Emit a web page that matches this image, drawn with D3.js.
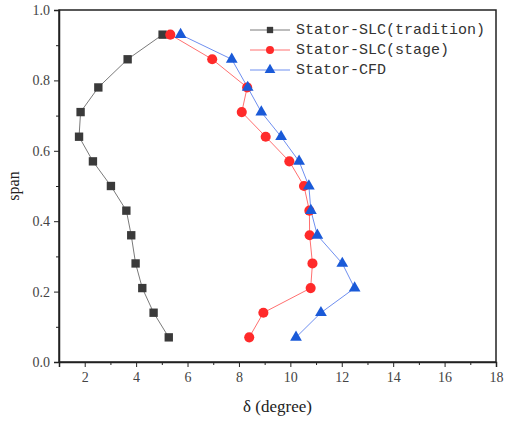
<!DOCTYPE html>
<html>
<head>
<meta charset="utf-8">
<script src="https://cdn.jsdelivr.net/npm/d3@7"></script>
<style>
body { margin: 0; background: #fff; }
.serif { font-family: "Liberation Serif", "DejaVu Serif", serif; }
</style>
</head>
<body>
<div id="chart"></div>
<script>
// data
var span = [0.07, 0.14, 0.21, 0.28, 0.36, 0.43, 0.50, 0.57, 0.64, 0.71, 0.78, 0.86, 0.93];
var tradition = [5.27, 4.68, 4.24, 3.98, 3.81, 3.62, 3.02, 2.32, 1.78, 1.84, 2.53, 3.67, 5.03];
var stage = [8.40, 8.95, 10.79, 10.86, 10.75, 10.74, 10.53, 9.96, 9.04, 8.11, 8.32, 6.96, 5.33];
var cfd = [10.22, 11.19, 12.50, 12.02, 11.05, 10.80, 10.72, 10.34, 9.64, 8.87, 8.34, 7.72, 5.73];
var xTicks = [2, 4, 6, 8, 10, 12, 14, 16, 18];
var yTicks = [0.0, 0.2, 0.4, 0.6, 0.8, 1.0];
var seriesNames = ["Stator-SLC(tradition)", "Stator-SLC(stage)", "Stator-CFD"];

var margin = {top: 10, right: 10, bottom: 61, left: 59},
  width = 506 - margin.left - margin.right,
  height = 423 - margin.top - margin.bottom;

var svg = d3.select("#chart")
  .append("svg")
  .attr("width", 506)
  .attr("height", 423)
  .append("g")
  .attr("transform", "translate(" + margin.left + "," + margin.top + ")");

var x = d3.scaleLinear().domain([1, 18]).range([0, width]);
var y = d3.scaleLinear().domain([0, 1]).range([height, 0]);

// minor ticks
svg.append("g")
  .attr("transform", "translate(0," + height + ")")
  .call(d3.axisBottom(x).tickValues(d3.range(3, 18, 2)).tickSize(3).tickFormat(""))
  .call(function(g) { g.select(".domain").remove(); });
svg.append("g")
  .call(d3.axisLeft(y).tickValues(d3.range(0.1, 1, 0.2)).tickSize(3).tickFormat(""))
  .call(function(g) { g.select(".domain").remove(); });

// X axis
var xAxis = svg.append("g")
  .attr("transform", "translate(0," + height + ")")
  .call(d3.axisBottom(x).tickValues(xTicks).tickSize(5).tickPadding(5).tickFormat(d3.format("d")));
xAxis.attr("font-family", null).attr("font-size", null);
xAxis.selectAll("text")
  .attr("class", "serif")
  .style("font-size", "14px")
  .attr("fill", "#444");

// Y axis
var yAxis = svg.append("g")
  .call(d3.axisLeft(y).tickValues(yTicks).tickSize(5).tickPadding(4).tickFormat(d3.format(".1f")));
yAxis.attr("font-family", null).attr("font-size", null);
yAxis.selectAll("text")
  .attr("class", "serif")
  .style("font-size", "14px")
  .attr("fill", "#444");

svg.selectAll(".domain").attr("stroke", "#222").attr("stroke-width", 1.5);
svg.selectAll(".tick line").attr("stroke", "#222");

// frame
svg.append("rect")
  .attr("width", width)
  .attr("height", height)
  .attr("fill", "none")
  .attr("stroke", "#222")
  .attr("stroke-width", 1.5);

// axis labels
svg.append("text")
  .attr("class", "serif")
  .attr("x", width / 2)
  .attr("y", height + 50)
  .attr("text-anchor", "middle")
  .style("font-size", "17px")
  .attr("fill", "#222")
  .text("δ (degree)");

svg.append("text")
  .attr("class", "serif")
  .attr("transform", "translate(-40," + (height / 2) + ") rotate(-90)")
  .attr("text-anchor", "middle")
  .style("font-size", "16px")
  .attr("fill", "#222")
  .text("span");

// lines
var line = d3.line()
  .x(function(d) { return x(d[0]); })
  .y(function(d) { return y(d[1]); });

function pairs(vals) {
  return vals.map(function(v, i) { return [v, span[i]]; });
}

var lineColors = ["#7a7a7a", "#ff7070", "#6f8ff0"];
var markColors = ["#3a3a3a", "#ff2a2a", "#1a5ad8"];
var allSeries = [tradition, stage, cfd];

allSeries.forEach(function(s, k) {
  svg.append("path")
    .datum(pairs(s))
    .attr("d", line)
    .attr("fill", "none")
    .attr("stroke", lineColors[k])
    .attr("stroke-width", 1);
});

var symbols = [d3.symbolSquare, d3.symbolCircle, d3.symbolTriangle];
var symSize = [70, 80, 60];

allSeries.forEach(function(s, k) {
  svg.append("g")
    .selectAll("path")
    .data(pairs(s))
    .enter()
    .append("path")
    .attr("transform", function(d) { return "translate(" + x(d[0]) + "," + y(d[1]) + ")"; })
    .attr("d", d3.symbol().type(symbols[k]).size(symSize[k]))
    .attr("fill", markColors[k]);
});

// legend
var lg = svg.append("g").attr("transform", "translate(" + (250 - margin.left) + ",0)");
seriesNames.forEach(function(name, k) {
  var yy = 20 + k * 20;
  lg.append("line")
    .attr("x1", 0).attr("x2", 40)
    .attr("y1", yy).attr("y2", yy)
    .attr("stroke", lineColors[k]);
  lg.append("path")
    .attr("transform", "translate(20," + yy + ")")
    .attr("d", d3.symbol().type(symbols[k]).size(k == 0 ? 40 : 50))
    .attr("fill", markColors[k]);
  lg.append("text")
    .attr("x", 46)
    .attr("y", yy)
    .attr("dominant-baseline", "central")
    .attr("font-family", "Liberation Mono")
    .attr("font-size", 15)
    .attr("fill", "#333")
    .text(name);
});
</script>
</body>
</html>
